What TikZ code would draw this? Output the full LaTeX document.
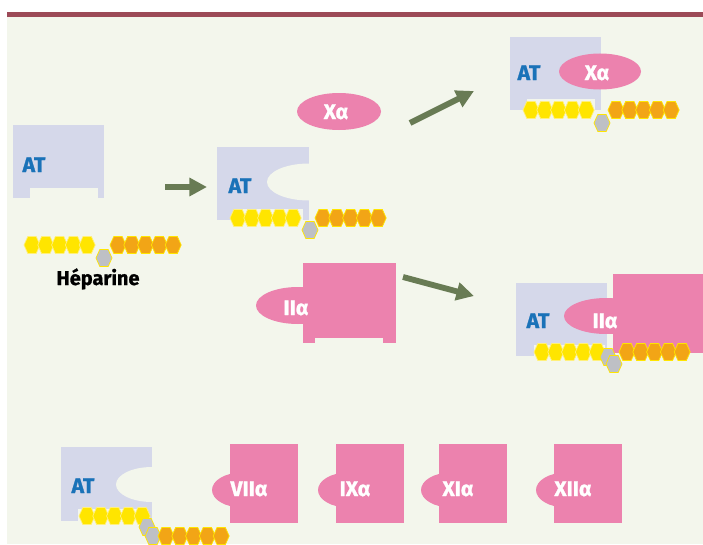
\documentclass[tikz,border=0pt]{standalone}
\usepackage{fontspec}
\setmainfont{Fira Sans}[BoldFeatures={FakeBold=1.2}]
\usetikzlibrary{arrows.meta}

\definecolor{barred}{HTML}{9C4A57}
\definecolor{paper}{HTML}{F3F6EC}
\definecolor{atgrey}{HTML}{D5D8EA}
\definecolor{factpink}{HTML}{EC82AE}
\definecolor{atblue}{HTML}{1A72B8}
\definecolor{flowgreen}{HTML}{687B54}
\definecolor{hepyellow}{HTML}{FFE500}
\definecolor{hepedge}{HTML}{FFF07A}
\definecolor{heporange}{HTML}{F2A516}
\definecolor{hepgrey}{HTML}{BEC0C5}

\tikzset{
  hexa/.pic={\path[pic actions] (-8,0) -- (-4.2,-8.5) -- (4.2,-8.5) -- (8,0) -- (4.2,8.5) -- (-4.2,8.5) -- cycle;},
  yhex/.style={fill=hepyellow, draw=hepedge, line width=0.6pt},
  ohex/.style={fill=heporange, draw=hepyellow, line width=0.6pt},
  ghex/.style={fill=hepgrey, draw=hepyellow, line width=0.6pt},
  lab/.style={font=\bfseries\fontsize{18}{18}\selectfont, inner sep=0pt, anchor=base},
  atlab/.style={lab, text=atblue},
  flab/.style={lab, text=white},
  flow/.style={draw=flowgreen, line width=5pt, -{Triangle[length=15pt,width=15pt]}}
}

% five hexagons of the chain: style, first centre x, centre y
\newcommand\hexrow[3]{\foreach \i in {0,...,4} \pic[#1] at ({#2+13.8*\i},#3) {hexa};}

\begin{document}
\begin{tikzpicture}[x=0.3mm,y=-0.3mm]
\useasboundingbox (0,0) rectangle (703,544);

% frame
\fill[white] (0,0) rectangle (703,544);
\fill[paper] (7,17) rectangle (703,544);
\fill[barred] (7,12) rectangle (703,17);

% free antithrombin and heparin
\fill[atgrey] (13,125) rectangle (104,198);
\fill[paper] (30,188) rectangle (98,198);
\node[atlab] (at1) at (34,172) {AT};
\hexrow{yhex}{32}{245}
\hexrow{ohex}{118}{245}
\pic[ghex] at (104,258) {hexa};
\node[lab, font=\bfseries\fontsize{17}{17}\selectfont] (hep) at (98,285) {Héparine};

% activated antithrombin
\fill[atgrey] (217,147) rectangle (309,220);
\fill[paper] (309,182) ellipse [x radius=42, y radius=18.5];
\fill[paper] (235,209) rectangle (303,220);
\node[atlab] (at2) at (240,193) {AT};
\hexrow{yhex}{238}{218}
\hexrow{ohex}{323}{218}
\pic[ghex] at (310,230) {hexa};

% free Xa
\fill[factpink] (339,111.5) ellipse [x radius=42, y radius=18.5];
\node[flab] (xa) at (336,119) {Xα};

% free IIa
\fill[factpink] (303,263) rectangle (396,343);
\fill[paper] (315,338) rectangle (383,343);
\fill[factpink] (298,305.5) ellipse [x radius=42, y radius=18.5];
\node[flab] (iia) at (296,315) {IIα};

% AT + Xa
\fill[atgrey] (510,37) rectangle (601,110);
\fill[paper] (527,99) rectangle (595,110);
\fill[factpink] (600,71.5) ellipse [x radius=41, y radius=18];
\node[atlab] (atxa) at (529,80) {AT};
\node[flab] (xaat) at (597,80) {Xα};
\hexrow{yhex}{531}{110}
\hexrow{ohex}{616}{110}
\pic[ghex] at (602,123) {hexa};

% AT + IIa
\fill[atgrey] (516,283) rectangle (607,356);
\fill[paper] (534,345) rectangle (605,356);
\fill[factpink] (613,274) rectangle (703,353);
\fill[factpink] (606,316) ellipse [x radius=42, y radius=18];
\node[atlab] (atii) at (538,328) {AT};
\node[flab] (iiat) at (605,328) {IIα};
\hexrow{yhex}{542}{352}
\hexrow{ohex}{627}{352}
\pic[ghex] at (608,357) {hexa};
\pic[ghex] at (614,364) {hexa};

% arrows
\coordinate (a1s) at (165,187);
\coordinate (a1e) at (207,187);
\coordinate (a2s) at (410,123);
\coordinate (a2e) at (474,91);
\coordinate (a3s) at (403,277);
\coordinate (a3e) at (474,296);
\draw[flow] (a1s) -- (a1e);
\draw[flow] (a2s) -- (a2e);
\draw[flow] (a3s) -- (a3e);

% other factors
\fill[atgrey] (61,447) rectangle (152,521);
\fill[paper] (152,484.5) ellipse [x radius=36, y radius=17.5];
\fill[paper] (78,509) rectangle (148,521);
\node[atlab] (atb) at (83,493) {AT};
\hexrow{yhex}{87}{516}
\pic[ghex] at (147,527) {hexa};
\pic[ghex] at (153,536) {hexa};
\hexrow{ohex}{166}{536}

\foreach \x/\t/\n in {230/VIIα/f7, 336/IXα/f9, 439/XIα/f11, 554/XIIα/f12} {
  \fill[factpink] (\x,444) rectangle ({\x+68},523);
  \fill[factpink] ({\x+12},490) ellipse [x radius=30, y radius=17.5];
  \node[flab] (\n) at ({\x+19},496) {\t};
}

\end{tikzpicture}
\end{document}
